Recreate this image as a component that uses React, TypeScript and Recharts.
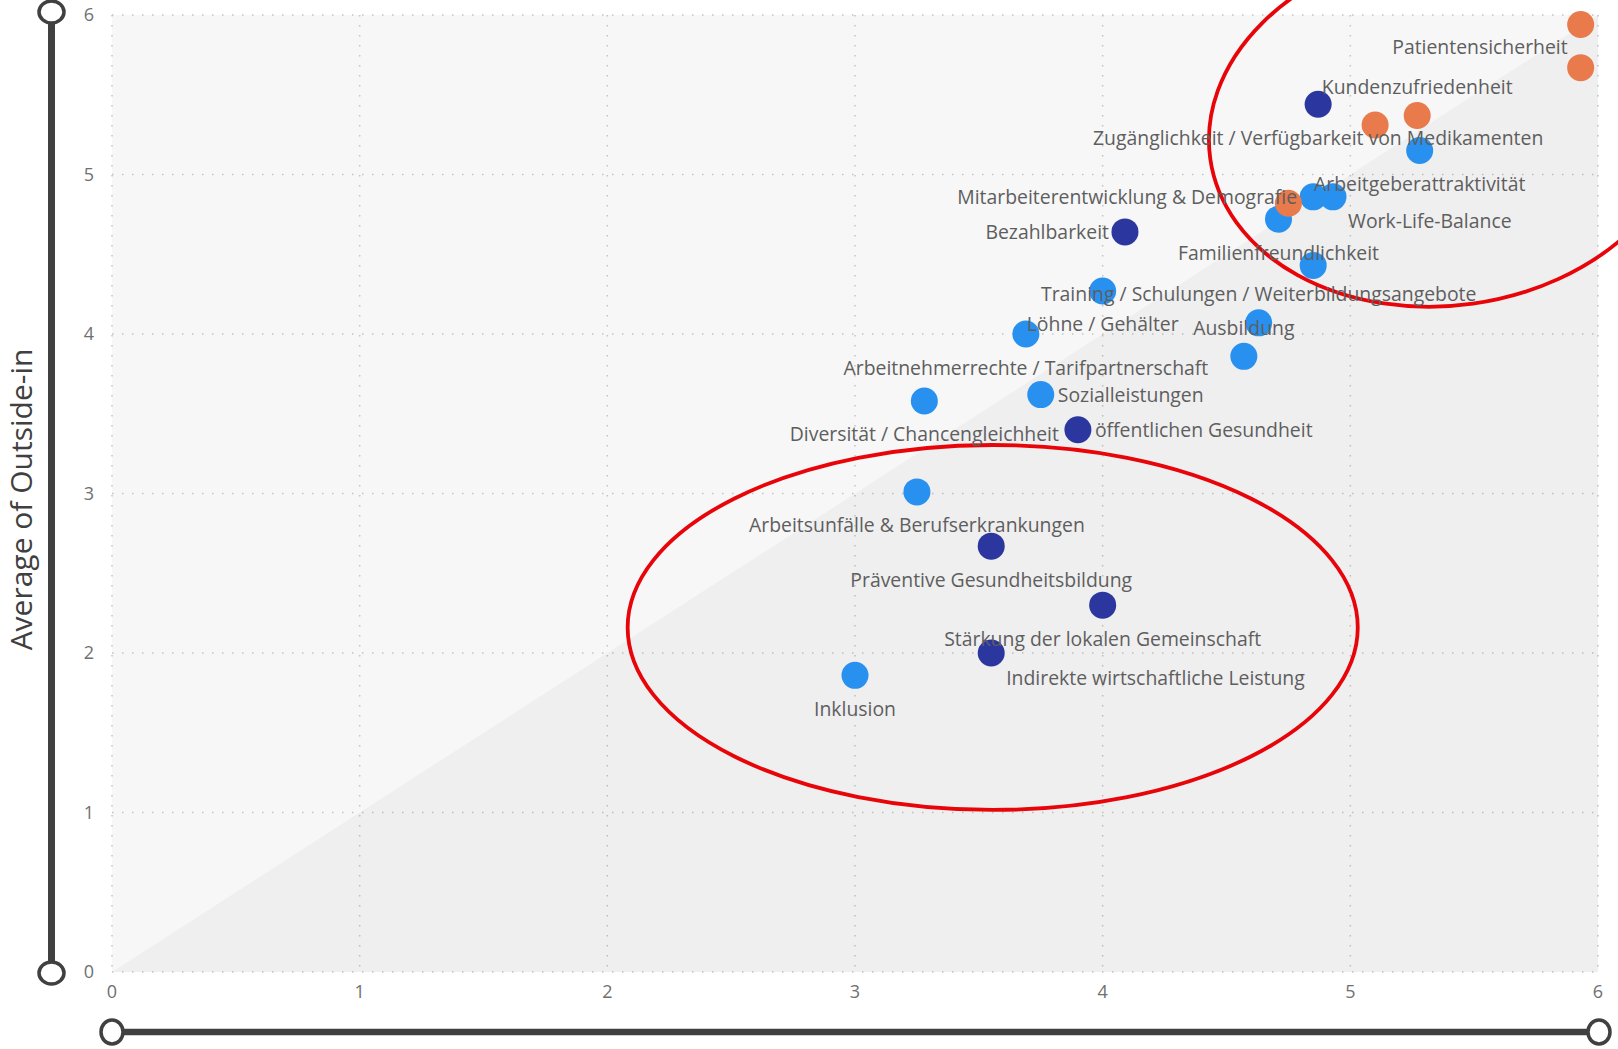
import {
  ComposedChart,
  Scatter,
  Area,
  XAxis,
  YAxis,
  CartesianGrid,
  ReferenceArea,
} from "recharts";

// topics, inside-out score (x), outside-in score (y), colour group
const TOPICS = [
  "Patientensicherheit",
  "",
  "Zugänglichkeit / Verfügbarkeit von Medikamenten",
  "Kundenzufriedenheit",
  "",
  "Arbeitgeberattraktivität",
  "",
  "Familienfreundlichkeit",
  "Mitarbeiterentwicklung & Demografie",
  "Work-Life-Balance",
  "Bezahlbarkeit",
  "",
  "Löhne / Gehälter",
  "Training / Schulungen / Weiterbildungsangebote",
  "Arbeitnehmerrechte / Tarifpartnerschaft",
  "Ausbildung",
  "Diversität / Chancengleichheit",
  "Sozialleistungen",
  "öffentlichen Gesundheit",
  "Arbeitsunfälle & Berufserkrankungen",
  "Präventive Gesundheitsbildung",
  "Stärkung der lokalen Gemeinschaft",
  "Indirekte wirtschaftliche Leistung",
  "Inklusion",
];

const INSIDE_OUT = [
  5.93, 5.93, 4.87, 5.27, 5.1, 5.28, 4.75, 4.71, 4.85, 4.93, 4.09, 4.85,
  4.0, 4.63, 3.69, 4.57, 3.28, 3.75, 3.9, 3.25, 3.55, 4.0, 3.55, 3.0,
];

const OUTSIDE_IN = [
  5.94, 5.67, 5.44, 5.37, 5.31, 5.15, 4.82, 4.72, 4.86, 4.86, 4.64, 4.43,
  4.27, 4.07, 4.0, 3.86, 3.58, 3.62, 3.4, 3.01, 2.67, 2.3, 2.0, 1.86,
];

const GROUP = [
  "orange", "orange", "navy", "orange", "orange", "blue", "orange", "blue",
  "blue", "blue", "navy", "blue", "blue", "blue", "blue", "blue", "blue",
  "blue", "navy", "blue", "navy", "navy", "navy", "blue",
];

// where each data label sits relative to its dot
const LABEL_PLACE = [
  "bottomLeft", "", "bottom", "top", "", "bottom", "", "bottom", "left",
  "bottomRight", "left", "", "bottom", "top", "bottom", "top", "bottom",
  "right", "right", "bottom", "bottom", "bottom", "bottomRight", "bottom",
];

const AXIS_TICKS = [0, 1, 2, 3, 4, 5, 6];
const DIAGONAL = [
  { x: 0, y: 0 },
  { x: 6, y: 6 },
];

// highlighted clusters (data-space bounding boxes of the red ellipses)
const HIGHLIGHTS = [
  { x1: 4.425, x2: 6.363, y1: 4.179, y2: 6.436, angle: -8 },
  { x1: 2.082, x2: 5.03, y1: 1.016, y2: 3.304, angle: 0 },
];

const COLORS: Record<string, string> = {
  blue: "#2891F0",
  navy: "#2B379F",
  orange: "#E87A4B",
};

const OFFSETS: Record<string, { dx: number; dy: number; anchor: string }> = {
  top: { dx: 0, dy: -29, anchor: "middle" },
  bottom: { dx: 0, dy: 33, anchor: "middle" },
  left: { dx: -16, dy: 0, anchor: "end" },
  right: { dx: 17, dy: 0, anchor: "start" },
  bottomRight: { dx: 15, dy: 24, anchor: "start" },
  bottomLeft: { dx: -13, dy: 22, anchor: "end" },
};

const rows = TOPICS.map((name, i) => ({
  name,
  x: INSIDE_OUT[i],
  y: OUTSIDE_IN[i],
  group: GROUP[i],
  place: LABEL_PLACE[i],
}));

const FONT = "'Open Sans', 'Noto Sans', sans-serif";
const W = 1618;
const H = 1049;
const PLOT = { left: 112, right: 1598, top: 15, bottom: 972 };

const Dot = (props: any) => {
  const { cx, cy, fill } = props;
  return <circle cx={cx} cy={cy} r={13.5} fill={fill} />;
};

const DataLabel = (props: any) => {
  const { cx, cy, payload } = props;
  const o = OFFSETS[payload.place];
  if (!o || !payload.name) return <g />;
  return (
    <text
      x={cx + o.dx}
      y={cy + o.dy}
      textAnchor={o.anchor as any}
      dominantBaseline="central"
      fontFamily={FONT}
      fontSize={19.4}
      fill="#5E5E5E"
    >
      {payload.name}
    </text>
  );
};

const Ellipse = (props: any) => {
  const { x, y, width, height, angle = 0 } = props;
  const cx = x + width / 2;
  const cy = y + height / 2;
  return (
    <ellipse
      cx={cx}
      cy={cy}
      rx={Math.abs(width) / 2}
      ry={Math.abs(height) / 2}
      transform={`rotate(${angle}, ${cx}, ${cy})`}
      fill="none"
      stroke="#E8050A"
      strokeWidth={3.8}
    />
  );
};

const Sliders = () => (
  <svg
    width={W}
    height={H}
    style={{ position: "absolute", left: 0, top: 0, pointerEvents: "none" }}
  >
    <line x1={51.5} y1={12} x2={51.5} y2={973} stroke="#404040" strokeWidth={7} />
    <ellipse cx={51.5} cy={12} rx={12.5} ry={11} fill="#fff" stroke="#404040" strokeWidth={3.5} />
    <ellipse cx={51.5} cy={973} rx={12.5} ry={11} fill="#fff" stroke="#404040" strokeWidth={3.5} />
    <line x1={112} y1={1032} x2={1599} y2={1032} stroke="#404040" strokeWidth={6.5} />
    <ellipse cx={112} cy={1032} rx={11} ry={12} fill="#fff" stroke="#404040" strokeWidth={3.5} />
    <ellipse cx={1599} cy={1032} rx={11} ry={12} fill="#fff" stroke="#404040" strokeWidth={3.5} />
  </svg>
);

const App = () => {
  const byGroup = (g: string) => rows.filter((r) => r.group === g);

  return (
    <div style={{ position: "absolute", left: 0, top: 0, width: W, height: H, background: "#fff" }}>
      <ComposedChart
        width={W}
        height={H}
        margin={{ top: PLOT.top, right: W - PLOT.right, bottom: 0, left: 0 }}
      >
        <CartesianGrid
          fill="#F7F7F7"
          stroke="#C4C4C4"
          strokeWidth={1.5}
          strokeDasharray="1.5 8.5"
        />
        <XAxis
          type="number"
          dataKey="x"
          domain={[0, 6]}
          ticks={AXIS_TICKS}
          height={H - PLOT.bottom}
          axisLine={false}
          tickLine={false}
          tickSize={0}
          tickMargin={13}
          tick={{ fill: "#707070", fontSize: 18, fontFamily: FONT }}
          interval={0}
        />
        <YAxis
          type="number"
          dataKey="y"
          domain={[0, 6]}
          ticks={AXIS_TICKS}
          width={PLOT.left}
          axisLine={false}
          tickLine={false}
          tickSize={0}
          tickMargin={18}
          tick={{ fill: "#707070", fontSize: 18, fontFamily: FONT }}
          interval={0}
          label={{
            content: (p: any) => {
              const vb = p.viewBox || { y: PLOT.top, height: PLOT.bottom - PLOT.top };
              const cy = vb.y + vb.height / 2 + 6;
              return (
                <text
                  x={20}
                  y={cy}
                  transform={`rotate(-90, 20, ${cy})`}
                  textAnchor="middle"
                  dominantBaseline="central"
                  fontFamily={FONT}
                  fontSize={30}
                  fill="#404040"
                >
                  Average of Outside-in
                </text>
              );
            },
          }}
        />
        <Area
          data={DIAGONAL}
          dataKey="y"
          type="linear"
          stroke="none"
          fill="#000"
          fillOpacity={0.032}
          isAnimationActive={false}
          activeDot={false}
          dot={false}
        />
        <Scatter data={byGroup("blue")} fill={COLORS.blue} shape={Dot} isAnimationActive={false} />
        <Scatter data={byGroup("navy")} fill={COLORS.navy} shape={Dot} isAnimationActive={false} />
        <Scatter data={byGroup("orange")} fill={COLORS.orange} shape={Dot} isAnimationActive={false} />
        <Scatter data={rows} shape={DataLabel} isAnimationActive={false} />
        {HIGHLIGHTS.map((h, i) => (
          <ReferenceArea
            key={i}
            x1={h.x1}
            x2={h.x2}
            y1={h.y1}
            y2={h.y2}
            ifOverflow="visible"
            shape={(p: any) => <Ellipse {...p} angle={h.angle} />}
          />
        ))}
      </ComposedChart>
      <Sliders />
    </div>
  );
};

export default App;
